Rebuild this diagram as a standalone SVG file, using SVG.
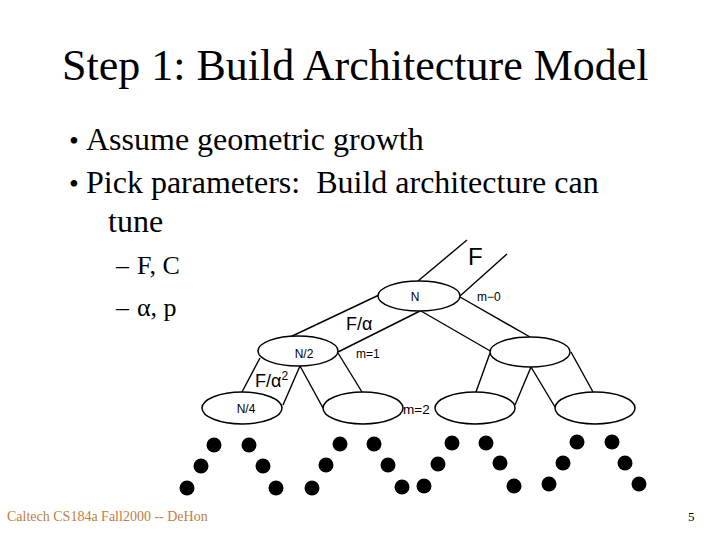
<svg xmlns="http://www.w3.org/2000/svg" width="720" height="540" viewBox="0 0 720 540">
<style>
.serif{font-family:"Liberation Serif","Times New Roman",serif;fill:#000}
.sans{font-family:"Liberation Sans",Arial,sans-serif;fill:#000}
.node{fill:#fff;stroke:#000;stroke-width:1.5}
.edge{stroke:#000;stroke-width:1.4;fill:none}
.dot{fill:#000}
</style>
<rect width="720" height="540" fill="#fff"/>
<text class="serif" x="62" y="80" font-size="44">Step 1: Build Architecture Model</text>
<g id="bullets" class="serif" font-size="32">
<text x="69" y="150" font-size="28">•</text><text x="86" y="150">Assume geometric growth</text>
<text x="69" y="193" font-size="28">•</text><text x="86" y="193">Pick parameters:&#160; Build architecture can</text>
<text x="108" y="232">tune</text>
</g>
<g id="subbullets" class="serif" font-size="26">
<text x="116" y="274">–</text><text x="137" y="274">F, C</text>
<text x="116" y="316">–</text><text x="137" y="316">α, p</text>
</g>
<g id="connectors">
<line class="edge" x1="418" y1="281" x2="467" y2="240"/>
<line class="edge" x1="460" y1="296" x2="507" y2="254"/>
<line class="edge" x1="379" y1="295" x2="288" y2="338"/>
<line class="edge" x1="420" y1="311" x2="338" y2="352"/>
<line class="edge" x1="421" y1="311" x2="492" y2="352"/>
<line class="edge" x1="460" y1="297" x2="530" y2="337"/>
<line class="edge" x1="260" y1="358" x2="242" y2="392"/>
<line class="edge" x1="300" y1="366" x2="283" y2="405"/>
<line class="edge" x1="300" y1="366" x2="323" y2="408"/>
<line class="edge" x1="338" y1="353" x2="362" y2="392"/>
<line class="edge" x1="490" y1="353" x2="476" y2="392"/>
<line class="edge" x1="531" y1="367" x2="515" y2="405"/>
<line class="edge" x1="531" y1="367" x2="555" y2="407"/>
<line class="edge" x1="571" y1="352" x2="593" y2="392"/>
</g>
<g id="n0"><ellipse class="node" cx="419" cy="296" rx="41" ry="15"/><text class="sans" x="415" y="301" font-size="12" text-anchor="middle">N</text></g>
<g id="n1"><ellipse class="node" cx="298" cy="351" rx="40" ry="15"/><text class="sans" x="304" y="358" font-size="12" text-anchor="middle">N/2</text></g>
<g id="n2"><ellipse class="node" cx="530" cy="352" rx="40" ry="15"/></g>
<g id="n3"><ellipse class="node" cx="242" cy="408" rx="40" ry="16"/><text class="sans" x="246" y="413" font-size="12" text-anchor="middle">N/4</text></g>
<g id="n4"><ellipse class="node" cx="363" cy="408" rx="40" ry="16"/></g>
<g id="n5"><ellipse class="node" cx="475" cy="408" rx="40" ry="16"/></g>
<g id="n6"><ellipse class="node" cx="595" cy="408" rx="40" ry="16"/></g>
<g id="labels" class="sans">
<text x="468" y="265" font-size="24">F</text>
<text x="477" y="301" font-size="12">m−0</text>
<text x="346" y="330" font-size="18">F/α</text>
<text x="356" y="358" font-size="12">m=1</text>
<text x="255" y="387" font-size="18">F/α<tspan font-size="12" dy="-7">2</tspan></text>
<text x="403" y="414" font-size="13.5">m=2</text>
</g>
<g id="leaves">
<circle class="dot" cx="187" cy="488" r="7.5"/><circle class="dot" cx="201" cy="466" r="7.5"/><circle class="dot" cx="214" cy="445" r="7.5"/>
<circle class="dot" cx="249" cy="445" r="7.5"/><circle class="dot" cx="263" cy="466" r="7.5"/><circle class="dot" cx="276" cy="488" r="7.5"/>
<circle class="dot" cx="312" cy="488" r="7.5"/><circle class="dot" cx="326" cy="465" r="7.5"/><circle class="dot" cx="340" cy="444" r="7.5"/>
<circle class="dot" cx="374" cy="444" r="7.5"/><circle class="dot" cx="388" cy="465" r="7.5"/><circle class="dot" cx="402" cy="487" r="7.5"/>
<circle class="dot" cx="424" cy="486" r="7.5"/><circle class="dot" cx="438" cy="464" r="7.5"/><circle class="dot" cx="452" cy="443" r="7.5"/>
<circle class="dot" cx="486" cy="443" r="7.5"/><circle class="dot" cx="500" cy="463" r="7.5"/><circle class="dot" cx="514" cy="486" r="7.5"/>
<circle class="dot" cx="549" cy="484" r="7.5"/><circle class="dot" cx="563" cy="463" r="7.5"/><circle class="dot" cx="577" cy="442" r="7.5"/>
<circle class="dot" cx="612" cy="442" r="7.5"/><circle class="dot" cx="625" cy="463" r="7.5"/><circle class="dot" cx="639" cy="484" r="7.5"/>
</g>
<text class="serif" x="7" y="521" font-size="14" style="fill:#c0803f">Caltech CS184a Fall2000 -- DeHon</text>
<text class="serif" x="688" y="521" font-size="13">5</text>
</svg>
